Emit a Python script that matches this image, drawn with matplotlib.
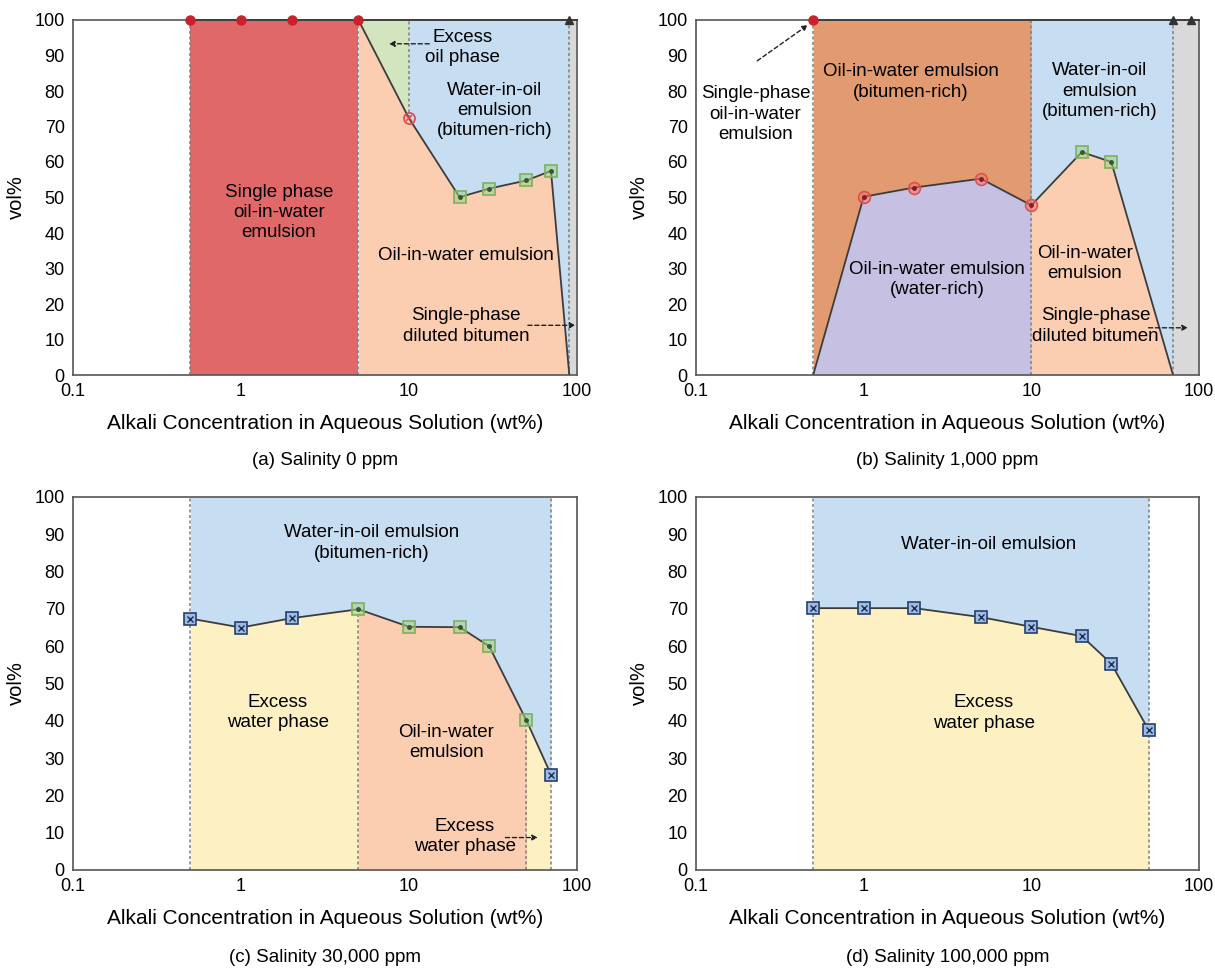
"""Phase behaviour of bitumen / alkali solution at four salinities (vol% vs alkali wt%)."""

import matplotlib
matplotlib.use("Agg")
import matplotlib.pyplot as plt

plt.rcParams["font.family"] = ["Liberation Sans", "DejaVu Sans"]
plt.rcParams["font.size"] = 13.5

# ---- data ---------------------------------------------------------------
# (a) salinity 0 ppm
A_X = [0.5, 1, 2, 5, 10, 20, 30, 50, 70, 90]
A_Y = [100, 100, 100, 100, 72.3, 50.1, 52.5, 54.8, 57.5, 0]
A_EDGE = 90  # start of single-phase diluted bitumen

# (b) salinity 1,000 ppm
B_X = [0.5, 1, 2, 5, 10, 20, 30, 70]
B_Y = [0, 50.2, 52.8, 55.3, 47.8, 62.8, 60.0, 0]
B_TRI = [70, 90]

# (c) salinity 30,000 ppm
C_X = [0.5, 1, 2, 5, 10, 20, 30, 50, 70]
C_Y = [67.4, 65.0, 67.5, 69.9, 65.2, 65.1, 60.0, 40.1, 25.6]

# (d) salinity 100,000 ppm
D_X = [0.5, 1, 2, 5, 10, 20, 30, 50]
D_Y = [70.2, 70.2, 70.2, 67.8, 65.2, 62.7, 55.3, 37.6]

SUBTITLES = [
    "(a) Salinity 0 ppm",
    "(b) Salinity 1,000 ppm",
    "(c) Salinity 30,000 ppm",
    "(d) Salinity 100,000 ppm",
]

RED = "#e06868"
SALMON = "#fbcdb1"
GREEN = "#d2e5be"
BLUE = "#c6ddf2"
GRAY = "#d9d9d9"
ORANGE = "#e29b70"
PURPLE = "#c6c1e2"
YELLOW = "#fdf1c4"
LINE = "#3c3c3c"
DASH = "#808080"


def fill(ax, x, lo, hi, color):
    ax.fill_between(x, lo, hi, color=color, lw=0, zorder=1)


def vdash(ax, x, y0=0, y1=100):
    ax.plot([x, x], [y0, y1], color=DASH, lw=1.1, ls=(0, (2, 1.6)), zorder=2)


def green_sq(ax, x, y):
    ax.plot(x, y, ls="none", marker="s", ms=8, mfc=(0.62, 0.82, 0.52, 0.55),
            mec="#7cb060", mew=1.2, zorder=5)
    ax.plot(x, y, ls="none", marker="o", ms=2.5, color="#2f5a2f", zorder=6)


def blue_sq(ax, x, y):
    ax.plot(x, y, ls="none", marker="s", ms=8, mfc="#9dbbe3", mec="#24406e",
            mew=1.2, zorder=5)
    ax.plot(x, y, ls="none", marker="x", ms=5, color="#1b2d55", mew=1, zorder=6)


def red_circ(ax, x, y):
    ax.plot(x, y, ls="none", marker="o", ms=8.5, mfc=(0.95, 0.45, 0.45, 0.55),
            mec="#e05050", mew=1.2, zorder=5)
    ax.plot(x, y, ls="none", marker="o", ms=2.5, color="#8a1c1c", zorder=6)


def top_marks(ax, x, marker, color, ms):
    ax.plot(x, [100] * len(x), ls="none", marker=marker, ms=ms, color=color,
            zorder=10, clip_on=False)


def arrow(ax, start, end):
    ax.annotate("", xy=end, xytext=start, zorder=7,
                arrowprops=dict(arrowstyle="-|>", color="#222", lw=1,
                                ls=(0, (3, 2)), mutation_scale=8,
                                shrinkA=0, shrinkB=0))


def label(ax, x, y, s):
    ax.text(x, y, s, ha="center", va="center", linespacing=1.25, zorder=8)


def setup(ax):
    ax.set_xscale("log")
    ax.set_xlim(0.1, 100)
    ax.set_ylim(0, 100)
    ax.set_xticks([0.1, 1, 10, 100])
    ax.set_xticklabels(["0.1", "1", "10", "100"])
    ax.set_yticks(range(0, 101, 10))
    ax.minorticks_off()
    ax.tick_params(length=0, pad=6, labelsize=13)
    for sp in ax.spines.values():
        sp.set_color("#555")
        sp.set_linewidth(1.2)
        sp.set_zorder(9)
    ax.set_xlabel("Alkali Concentration in Aqueous Solution (wt%)", fontsize=15,
                  labelpad=10)
    ax.set_ylabel("vol%", fontsize=14.5, labelpad=6)


def panel_a(ax):
    fill(ax, [A_X[0], A_X[3]], 0, 100, RED)
    fill(ax, A_X[3:], 0, A_Y[3:], SALMON)
    fill(ax, A_X[3:5], A_Y[3:5], 100, GREEN)
    fill(ax, A_X[4:], A_Y[4:], 100, BLUE)
    fill(ax, [A_EDGE, 100], 0, 100, GRAY)
    for x in (A_X[0], A_X[3], A_EDGE):
        vdash(ax, x)
    vdash(ax, A_X[4], A_Y[4], 100)
    ax.plot([A_X[0], 100], [100, 100], color=LINE, lw=1.3, zorder=9.5, clip_on=False)
    ax.plot(A_X[3:], A_Y[3:], color=LINE, lw=1.3, zorder=4)
    top_marks(ax, A_X[:4], "o", "#c8232b", 6.5)
    ax.plot(A_X[4], A_Y[4], ls="none", marker="o", ms=8, mfc="none", mec="#e04848",
            mew=1.2, zorder=5)
    ax.plot(A_X[4], A_Y[4], ls="none", marker="x", ms=5, color="#e04848", mew=1.1, zorder=6)
    green_sq(ax, A_X[5:9], A_Y[5:9])
    top_marks(ax, [A_EDGE], "^", "#333", 6)

    label(ax, 1.68, 45.8, "Single phase\noil-in-water\nemulsion")
    label(ax, 20.7, 92.2, "Excess\noil phase")
    arrow(ax, (13.2, 93.3), (7.6, 93.3))
    label(ax, 32.3, 74.5, "Water-in-oil\nemulsion\n(bitumen-rich)")
    label(ax, 21.8, 33.7, "Oil-in-water emulsion")
    label(ax, 21.8, 13.8, "Single-phase\ndiluted bitumen")
    arrow(ax, (51, 14), (98, 14))


def panel_b(ax):
    fill(ax, B_X[:5], B_Y[:5], 100, ORANGE)
    fill(ax, B_X[:5], 0, B_Y[:5], PURPLE)
    fill(ax, B_X[4:], B_Y[4:], 100, BLUE)
    fill(ax, B_X[4:], 0, B_Y[4:], SALMON)
    fill(ax, [B_X[-1], 100], 0, 100, GRAY)
    for x in (B_X[0], B_X[4], B_X[-1]):
        vdash(ax, x)
    ax.plot([B_X[0], 100], [100, 100], color=LINE, lw=1.3, zorder=9.5, clip_on=False)
    ax.plot(B_X, B_Y, color=LINE, lw=1.3, zorder=4)
    top_marks(ax, [B_X[0]], "o", "#c8232b", 6.5)
    red_circ(ax, B_X[1:5], B_Y[1:5])
    green_sq(ax, B_X[5:7], B_Y[5:7])
    top_marks(ax, B_TRI, "^", "#333", 6)

    label(ax, 0.226, 73.5, "Single-phase\noil-in-water\nemulsion")
    arrow(ax, (0.232, 88.5), (0.465, 98.6))
    label(ax, 1.92, 82.5, "Oil-in-water emulsion\n(bitumen-rich)")
    label(ax, 25.5, 80.0, "Water-in-oil\nemulsion\n(bitumen-rich)")
    label(ax, 2.75, 27.0, "Oil-in-water emulsion\n(water-rich)")
    label(ax, 20.8, 31.5, "Oil-in-water\nemulsion")
    label(ax, 24.2, 13.8, "Single-phase\ndiluted bitumen")
    arrow(ax, (50, 13.3), (86, 13.3))


def panel_c(ax):
    fill(ax, C_X, C_Y, 100, BLUE)
    fill(ax, C_X[:4], 0, C_Y[:4], YELLOW)
    fill(ax, C_X[3:8], 0, C_Y[3:8], SALMON)
    fill(ax, C_X[7:], 0, C_Y[7:], YELLOW)
    vdash(ax, C_X[0])
    vdash(ax, C_X[-1])
    vdash(ax, C_X[3], 0, C_Y[3])
    vdash(ax, C_X[7], 0, C_Y[7])
    ax.plot(C_X, C_Y, color=LINE, lw=1.3, zorder=4)
    blue_sq(ax, C_X[:3] + C_X[-1:], C_Y[:3] + C_Y[-1:])
    green_sq(ax, C_X[3:8], C_Y[3:8])

    label(ax, 6.03, 87.7, "Water-in-oil emulsion\n(bitumen-rich)")
    label(ax, 1.66, 42.3, "Excess\nwater phase")
    label(ax, 16.7, 34.1, "Oil-in-water\nemulsion")
    label(ax, 21.5, 9.0, "Excess\nwater phase")
    arrow(ax, (37.5, 8.7), (58.5, 8.7))


def panel_d(ax):
    fill(ax, D_X, D_Y, 100, BLUE)
    fill(ax, D_X, 0, D_Y, YELLOW)
    vdash(ax, D_X[0])
    vdash(ax, D_X[-1])
    ax.plot(D_X, D_Y, color=LINE, lw=1.3, zorder=4)
    blue_sq(ax, D_X, D_Y)

    label(ax, 5.58, 87.2, "Water-in-oil emulsion")
    label(ax, 5.2, 42.1, "Excess\nwater phase")


fig = plt.figure(figsize=(12.15, 9.68), dpi=100)
W, H = 1215, 968
boxes = [(73, 20, 577, 375), (696, 20, 1199, 375), (73, 497, 577, 870), (696, 497, 1199, 870)]
sub_y = [460, 460, 958, 958]
painters = [panel_a, panel_b, panel_c, panel_d]

for (l, t, r, b), sy, paint, title in zip(boxes, sub_y, painters, SUBTITLES):
    ax = fig.add_axes([l / W, 1 - b / H, (r - l) / W, (b - t) / H])
    ax.set_facecolor("white")
    setup(ax)
    paint(ax)
    fig.text((l + r) / 2 / W, 1 - sy / H, title, ha="center", va="center", fontsize=13.5)

fig.savefig("out.png", dpi=100)
